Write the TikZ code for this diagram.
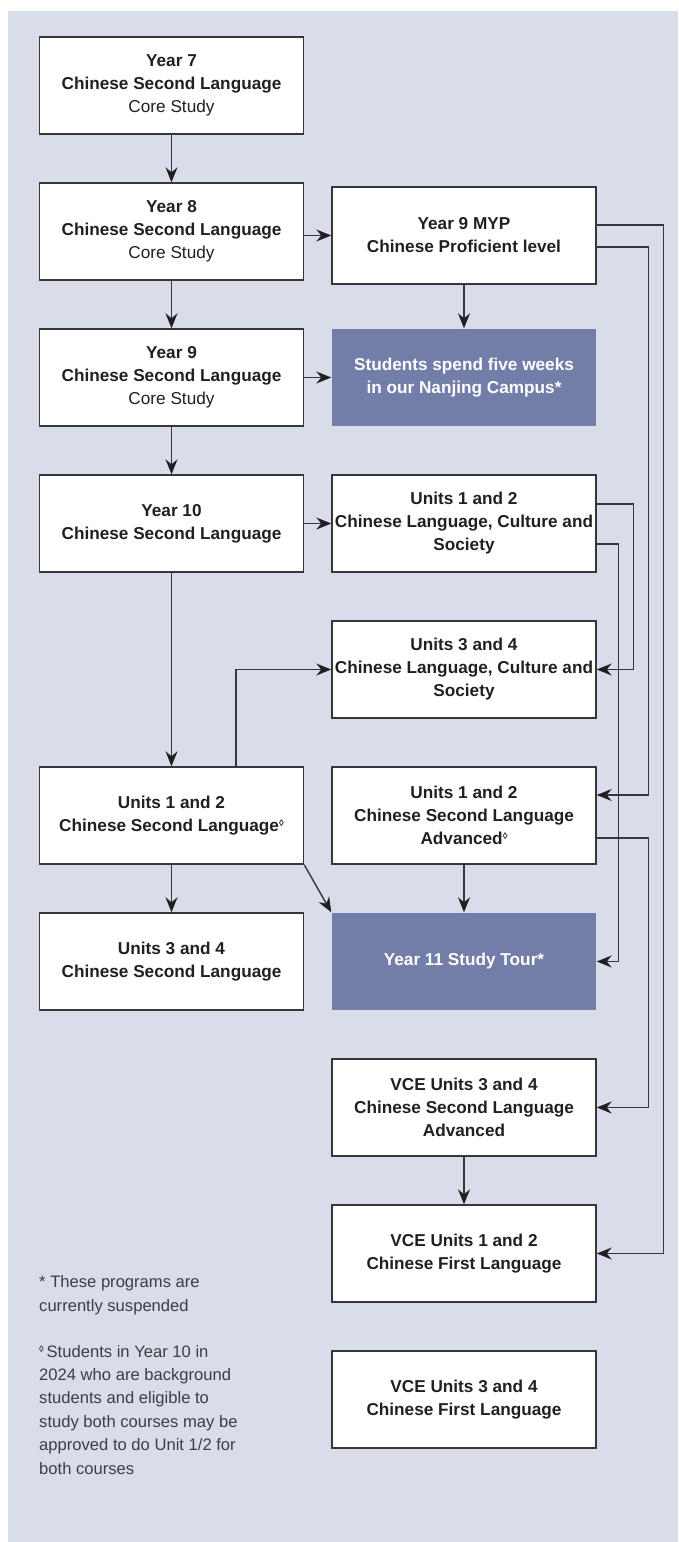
\documentclass[tikz,border=0pt]{standalone}
\usepackage{fontspec}
\setmainfont{Liberation Sans}
\usetikzlibrary{arrows.meta,calc}

\definecolor{panel}{RGB}{217,221,233}
\definecolor{tourfill}{RGB}{114,125,168}
\definecolor{ink}{RGB}{35,31,32}
\definecolor{rulegray}{RGB}{55,54,58}
\definecolor{notegray}{RGB}{62,62,66}

% small raised lozenge used as a footnote mark
\newcommand{\lozmark}{\raisebox{0.55ex}{\fontsize{9.5}{9.5}\selectfont\bfseries ◊}}

\begin{document}
\begin{tikzpicture}[x=1pt,y=-1pt,
  course/.style={draw=rulegray, line width=1.4pt, fill=white,
    minimum width=264pt, minimum height=97pt, inner sep=0pt,
    align=center, text=ink, font=\fontsize{17.2}{23}\selectfont\bfseries},
  trip/.style={course, draw=none, fill=tourfill, text=white},
  link/.style={draw=rulegray, line width=1.4pt,
    -{Stealth[length=15pt,width=12pt,inset=5pt,color=ink]}},
  note/.style={anchor=base west, inner sep=0pt, align=left, text=notegray,
    font=\fontsize{16.6}{23.4}\selectfont}]

% page and panel
\useasboundingbox (0,0) rectangle (678,1542);
\fill[white] (0,0) rectangle (678,1542);
\fill[panel] (8,11) rectangle (678,1542);

% left column
\node[course] (y7)  at (171.5,85.5)   {Year 7\\Chinese Second Language\\{\mdseries Core Study}};
\node[course] (y8)  at (171.5,231.5)  {Year 8\\Chinese Second Language\\{\mdseries Core Study}};
\node[course] (y9)  at (171.5,377.5)  {Year 9\\Chinese Second Language\\{\mdseries Core Study}};
\node[course] (y10) at (171.5,523.5)  {Year 10\\Chinese Second Language};
\node[course] (csl12) at (171.5,815.5) {Units 1 and 2\\Chinese Second Language\lozmark};
\node[course] (csl34) at (171.5,961.5) {Units 3 and 4\\Chinese Second Language};

% right column
\node[course] (myp)  at (464,235.5)  {Year 9 MYP\\Chinese Proficient level};
\node[trip]   (nj)   at (464,377.5)  {Students spend five weeks\\in our Nanjing Campus*};
\node[course] (clcs12) at (464,523.5) {Units 1 and 2\\Chinese Language, Culture and\\Society};
\node[course] (clcs34) at (464,669.5) {Units 3 and 4\\Chinese Language, Culture and\\Society};
\node[course] (adv12) at (464,815.5)  {Units 1 and 2\\Chinese Second Language\\Advanced\lozmark};
\node[trip]   (tour)  at (464,961.5)  {Year 11 Study Tour*};
\node[course] (adv34) at (464,1107.5) {VCE Units 3 and 4\\Chinese Second Language\\Advanced};
\node[course] (fl12)  at (464,1253.5) {VCE Units 1 and 2\\Chinese First Language};
\node[course] (fl34)  at (464,1399.5) {VCE Units 3 and 4\\Chinese First Language};

% footnotes (anchored on the baseline of their last line)
\node[note] (n1) at (39,1311) {* These programs are\\currently suspended};
\node[note] (n2) at (39,1474) {\lozmark\,Students in Year 10 in\\2024 who are background\\students and eligible to\\study both courses may be\\approved to do Unit 1/2 for\\both courses};

% straight links
\draw[link] (y7) -- (y8);
\draw[link] (y8) -- (y9);
\draw[link] (y9) -- (y10);
\draw[link] (y10) -- (csl12);
\draw[link] (csl12) -- (csl34);
\draw[link] (y8.east |- myp.west) -- (myp.west);
\draw[link] (myp) -- (nj);
\draw[link] (y9) -- (nj);
\draw[link] (y10) -- (clcs12);
\draw[link] (adv12) -- (tour);
\draw[link] (adv34) -- (fl12);
\draw[link] (csl12.south east) -- (tour.north west);

% elbow from Units 1 and 2 up to Units 3 and 4
\draw[link] ($(csl12.north)+(64.5,0)$) |- (clcs34.west);

% routes along the right margin
\draw[link] ($(myp.east)+(0,-10.5)$) -| ($(fl12.east)+(67,0)$) -- (fl12.east);
\draw[link] ($(myp.east)+(0,11.5)$) -| ($(adv12.east)+(52,-20.5)$) -- ($(adv12.east)+(0,-20.5)$);
\draw[link] ($(clcs12.east)+(0,-19.5)$) -| ($(clcs34.east)+(37,0)$) -- (clcs34.east);
\draw[link] ($(clcs12.east)+(0,20.5)$) -| ($(tour.east)+(22,0)$) -- (tour.east);
\draw[link] ($(adv12.east)+(0,22.5)$) -| ($(adv34.east)+(52,0)$) -- (adv34.east);
\end{tikzpicture}
\end{document}
